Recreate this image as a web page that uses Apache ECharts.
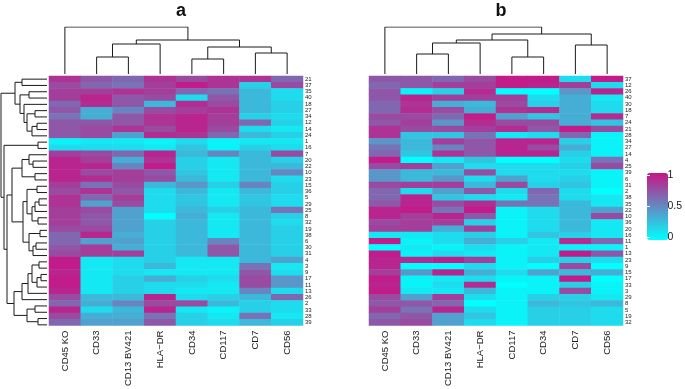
<!DOCTYPE html>
<html><head><meta charset="utf-8">
<script src="https://cdn.jsdelivr.net/npm/echarts@6/dist/echarts.min.js"></script>
<style>html,body{margin:0;padding:0;background:#fff}#c{width:685px;height:389px}</style>
</head><body><div id="c"></div>
<script>
// ---- categories ----
const markersA = ['CD45 KO','CD33','CD13 BV421','HLA\u2212DR','CD34','CD117','CD7','CD56'];
const markersB = ['CD45 KO','CD33','CD13 BV421','HLA\u2212DR','CD117','CD34','CD7','CD56'];
const rowsA = ['21','37','35','40','18','27','34','12','14','24','1','16','7','20','22','10','23','15','36','5','29','25','8','32','19','38','6','30','31','4','3','9','17','11','13','26','2','33','28','39'];
const rowsB = ['37','12','26','40','30','18','7','24','21','28','34','27','14','4','25','39','6','31','2','38','35','22','10','36','20','16','11','1','13','23','9','15','17','33','3','29','8','5','19','32'];
const legendTicks = [0, 0.5, 1];

// ---- heatmap values (row = cluster in order shown, column = marker) ----
const valuesA = [
 [0.87,0.72,0.65,0.87,0.77,0.87,0.87,0.65],
 [0.77,0.65,0.6,0.82,0.97,0.87,0.2,0.77],
 [0.82,0.82,0.87,0.82,0.65,0.6,0.3,0.15],
 [0.82,0.93,0.72,0.77,0.15,0.72,0.3,0.15],
 [0.65,0.9,0.72,0.3,0.9,0.77,0.3,0.2],
 [0.72,0.35,0.52,0.77,0.82,0.87,0.3,0.2],
 [0.6,0.35,0.72,0.87,0.93,0.82,0.2,0.15],
 [0.72,0.72,0.72,0.87,0.93,0.82,0.65,0.2],
 [0.72,0.77,0.87,0.77,0.93,0.77,0.15,0.1],
 [0.72,0.77,0.4,0.9,0.87,0.65,0.3,0.2],
 [0.05,0.1,0.1,0.05,0.15,0.05,0.1,0.1],
 [0.15,0.15,0.15,0.1,0.25,0.05,0.2,0.15],
 [0.82,0.77,0.65,0.93,0.3,0.52,0.3,0.77],
 [0.93,0.82,0.35,0.87,0.2,0.1,0.3,0.2],
 [0.93,0.93,0.52,0.97,0.2,0.1,0.3,0.3],
 [0.93,0.77,0.82,0.72,0.25,0.1,0.3,0.52],
 [0.93,0.9,0.82,0.77,0.3,0.1,0.3,0.15],
 [0.82,0.6,0.77,0.3,0.45,0.2,0.52,0.2],
 [0.77,0.87,0.72,0.15,0.3,0.1,0.3,0.2],
 [0.87,0.65,0.82,0.15,0.25,0.1,0.25,0.15],
 [0.87,0.4,0.77,0.15,0.25,0.1,0.25,0.15],
 [0.82,0.77,0.4,0.15,0.3,0.2,0.3,0.6],
 [0.82,0.72,0.4,0,0.35,0.1,0.3,0.2],
 [0.82,0.72,0.4,0.2,0.3,0.1,0.3,0.15],
 [0.77,0.77,0.4,0.2,0.3,0.1,0.3,0.2],
 [0.65,0.93,0.35,0.2,0.3,0.1,0.3,0.2],
 [0.65,0.4,0.4,0.2,0.3,0.52,0.3,0.2],
 [0.72,0.82,0.35,0.2,0.3,0.72,0.3,0.2],
 [0.77,0.82,0.82,0.2,0.3,0.72,0.3,0.2],
 [0.97,0.1,0.15,0.2,0.1,0.1,0.3,0.4],
 [0.97,0.1,0.15,0.3,0.1,0.1,0.6,0.1],
 [0.93,0.1,0.15,0.1,0.1,0.1,0.72,0.15],
 [0.97,0.1,0.2,0.35,0.2,0.15,0.77,0.45],
 [0.97,0.1,0.2,0.15,0.15,0.1,0.77,0.45],
 [0.93,0.1,0.2,0.15,0.1,0.1,0.52,0.15],
 [0.77,0.3,0.3,0.93,0.15,0.2,0.3,0.65],
 [0.65,0.35,0.52,0.77,0.77,0.3,0.2,0.15],
 [0.93,0.15,0.3,0.93,0.1,0.05,0.2,0.15],
 [0.77,0.35,0.35,0.6,0.2,0.1,0.6,0.1],
 [0.65,0.4,0.4,0.72,0.2,0.15,0.3,0.2]
];
const valuesB = [
 [0.72,0.72,0.65,0.77,0.97,0.97,0.15,0.97],
 [0.65,0.72,0.82,0.82,0.97,0.93,0.82,0.15],
 [0.72,0.05,0.2,0.9,0,0,0.45,0.93],
 [0.72,0.93,0.82,0.82,0.82,0.15,0.35,0.1],
 [0.65,0.87,0.35,0.3,0.77,0.2,0.35,0.15],
 [0.65,0.9,0.77,0.35,0.87,0.9,0.35,0.15],
 [0.77,0.77,0.65,0.97,0.4,0.25,0.35,0.9],
 [0.72,0.82,0.45,0.9,0.77,0.77,0.35,0.25],
 [0.87,0.77,0.77,0.82,0.9,0.72,0.97,0.77],
 [0.87,0.25,0.25,0.6,0.1,0.15,0.65,0.05],
 [0.45,0.3,0.82,0.72,0.93,0.93,0.2,0.05],
 [0.6,0.3,0.52,0.72,0.93,0.77,0.35,0.05],
 [0.65,0.25,0.87,0.72,0.93,0.93,0.2,0.05],
 [0.97,0,0.1,0.25,0,0,0.15,0.6],
 [0.77,0.82,0.4,0.15,0.15,0.15,0.2,0.77],
 [0.45,0.3,0.3,0.77,0.15,0.15,0.15,0.05],
 [0.45,0.3,0.45,0.15,0.4,0.15,0.2,0.05],
 [0.77,0.82,0.82,0.3,0.77,0.2,0.25,0.05],
 [0.65,0.15,0.4,0.72,0.15,0.65,0.15,0],
 [0.65,0.93,0.25,0.15,0.1,0.6,0.15,0.1],
 [0.72,0.93,0.77,0.9,0.6,0.6,0.3,0.1],
 [0.93,0.97,0.6,0.97,0.05,0.15,0.3,0.4],
 [0.93,0.82,0.93,0.72,0.05,0.15,0.3,0.77],
 [0.77,0.82,0.82,0.2,0.05,0.15,0.3,0.1],
 [0.82,0.82,0.35,0.82,0.05,0.15,0.3,0.1],
 [0.1,0.1,0.15,0.2,0.05,0.25,0.2,0.1],
 [0.97,0.05,0.15,0.35,0.2,0.1,0.9,0.65],
 [0,0.1,0.05,0.15,0.05,0.1,0.05,0.05],
 [0.97,0.05,0.15,0.1,0.05,0.1,0.97,0.72],
 [0.93,0.9,0.97,0.82,0.05,0.2,0.2,0.15],
 [0.93,0,0,0.15,0.05,0,0.77,0],
 [0.82,0.45,0.93,0.35,0.15,0.4,0.3,0.35],
 [0.97,0.05,0.1,0.15,0.05,0.05,0.97,0],
 [0.93,0.05,0.15,0.9,0,0.05,0.2,0.05],
 [0.97,0.1,0.1,0.3,0.05,0.05,0.77,0.05],
 [0.77,0.4,0.82,0.15,0.05,0.2,0.2,0.1],
 [0.72,0.72,0.65,0,0.05,0.3,0.25,0.3],
 [0.82,0.6,0.93,0.15,0.05,0.2,0.2,0.15],
 [0.65,0.72,0.4,0.25,0.05,0.2,0.2,0.15],
 [0.72,0.77,0.4,0.15,0.05,0.2,0.2,0.15]
];

// ---- dendrograms: [left, right, mergeHeight]; numbers are leaf positions ----
const colTreeA = [0, [[[1,2,17],3,30], [[4,5,15],[6,7,21],27], 34], 47];
const colTreeB = [0, [[[[1,2,20],3,31], [4,5,17], 34], [6,7,29], 40], 47];
const rowTreeA = [
  [[0,1,25], [[2,3,18], [4, [[5,6,12], [[7,8,10], 9, 15], 20], 23], 27], 32],
  [[10,11,9],
   [
     [[[12,[13,14,14],18],[15,16,12],25],
      [[[17,18,10],[[[19,20,8],21,12],[22,23,9],15],20],
       [[24,25,7],[[26,27,11],28,14],18], 24], 35],
     [[[[[29,30,8],[[31,32,6],33,10],15],34,19],35,25],
      [[36,37,12],[38,39,9],20], 33],
     40], 43],
  46];

function dendroSegments(tree, horizontal) {
  const segs = [];
  (function walk(node) {
    if (typeof node === 'number') return {p: node, h: 0};
    const a = walk(node[0]), b = walk(node[1]), h = node[2];
    const pts = [[a.p, a.h], [a.p, h], [b.p, h], [b.p, b.h]];
    segs.push({coords: horizontal ? pts.map(q => [q[1], q[0]]) : pts});
    return {p: (a.p + b.p) / 2, h: h};
  })(tree);
  return segs;
}
function cells(values) {
  const out = [];
  values.forEach((row, r) => row.forEach((v, c) => out.push([c, r, v])));
  return out;
}

const FONT = 'Liberation Sans, Arial, Helvetica, sans-serif';
const HM_W = 254, HM_H = 252, HM_TOP = 76;
const A_LEFT = 49, B_LEFT = 369;

const chart = echarts.init(document.getElementById('c'), null, {renderer: 'canvas'});
const hidden = {show: false};
const lineStyle = {color: '#1a1a1a', width: 1, opacity: 1};

function heatX(data, grid) {
  return {type: 'category', gridIndex: grid, data: data, position: 'bottom',
    axisLine: hidden, axisTick: hidden, splitLine: hidden,
    axisLabel: {rotate: 90, fontSize: 9.5, margin: 5, color: '#1a1a1a', fontFamily: FONT, interval: 0}};
}
function heatY(data, grid) {
  return {type: 'category', gridIndex: grid, data: data, inverse: true, position: 'right',
    axisLine: hidden, axisTick: hidden, splitLine: hidden,
    axisLabel: {fontSize: 6, margin: 2, color: '#1a1a1a', fontFamily: FONT, interval: 0}};
}
function valAxis(grid, min, max, inverse) {
  return {type: 'value', gridIndex: grid, min: min, max: max, inverse: !!inverse, show: false};
}

chart.setOption({
  animation: false,
  backgroundColor: '#fff',
  title: [
    {text: 'a', left: A_LEFT + HM_W / 2, textAlign: 'center', top: -3,
     textStyle: {fontSize: 18, fontWeight: 'bold', fontFamily: FONT, color: '#111'}},
    {text: 'b', left: B_LEFT + HM_W / 2, textAlign: 'center', top: -3,
     textStyle: {fontSize: 18, fontWeight: 'bold', fontFamily: FONT, color: '#111'}}
  ],
  grid: [
    {left: A_LEFT, top: HM_TOP, width: HM_W, height: HM_H},
    {left: B_LEFT, top: HM_TOP, width: HM_W, height: HM_H},
    {left: A_LEFT, top: 27, width: HM_W, height: 47},
    {left: B_LEFT, top: 27, width: HM_W, height: 47},
    {left: 1, top: HM_TOP, width: 46, height: HM_H},
    {left: 647, top: 175.5, width: 21, height: 62}
  ],
  xAxis: [
    heatX(markersA, 0),
    heatX(markersB, 1),
    valAxis(2, -0.5, 7.5),
    valAxis(3, -0.5, 7.5),
    valAxis(4, 0, 46, true),
    {type: 'value', gridIndex: 5, min: 0, max: 1, show: false}
  ],
  yAxis: [
    heatY(rowsA, 0),
    heatY(rowsB, 1),
    valAxis(2, 0, 47),
    valAxis(3, 0, 47),
    valAxis(4, -0.5, 39.5, true),
    {type: 'value', gridIndex: 5, min: 0, max: 1, interval: 0.5, position: 'right', z: 10,
     axisLine: hidden, splitLine: hidden,
     axisTick: {show: true, inside: true, length: 3, lineStyle: {color: '#fff', width: 1}},
     axisLabel: {fontSize: 10.5, margin: 4, color: '#1a1a1a', fontFamily: FONT,
       formatter: v => legendTicks.indexOf(v) >= 0 ? String(v) : ''}},
    {type: 'value', gridIndex: 5, min: 0, max: 1, interval: 0.5, position: 'left', z: 10,
     axisLine: hidden, splitLine: hidden, axisLabel: hidden,
     axisTick: {show: true, inside: true, length: 3, lineStyle: {color: '#fff', width: 1}}}
  ],
  visualMap: {
    type: 'continuous', seriesIndex: [0, 1], min: 0, max: 1,
    inRange: {color: ['#00FFFF', '#C71585']},
    orient: 'vertical', left: 647, top: 173, itemWidth: 21, itemHeight: 67,
    padding: 0, calculable: false, hoverLink: false, z: 2
  },
  series: [
    {type: 'heatmap', xAxisIndex: 0, yAxisIndex: 0, data: cells(valuesA), itemStyle: {borderWidth: 0}, silent: true},
    {type: 'heatmap', xAxisIndex: 1, yAxisIndex: 1, data: cells(valuesB), itemStyle: {borderWidth: 0}, silent: true},
    {type: 'lines', coordinateSystem: 'cartesian2d', polyline: true, xAxisIndex: 2, yAxisIndex: 2,
     data: dendroSegments(colTreeA, false), lineStyle: lineStyle, silent: true},
    {type: 'lines', coordinateSystem: 'cartesian2d', polyline: true, xAxisIndex: 3, yAxisIndex: 3,
     data: dendroSegments(colTreeB, false), lineStyle: lineStyle, silent: true},
    {type: 'lines', coordinateSystem: 'cartesian2d', polyline: true, xAxisIndex: 4, yAxisIndex: 4,
     data: dendroSegments(rowTreeA, true), lineStyle: lineStyle, silent: true},
    {type: 'scatter', xAxisIndex: 5, yAxisIndex: 5, data: [], silent: true}
  ]
});
</script>
</body></html>
